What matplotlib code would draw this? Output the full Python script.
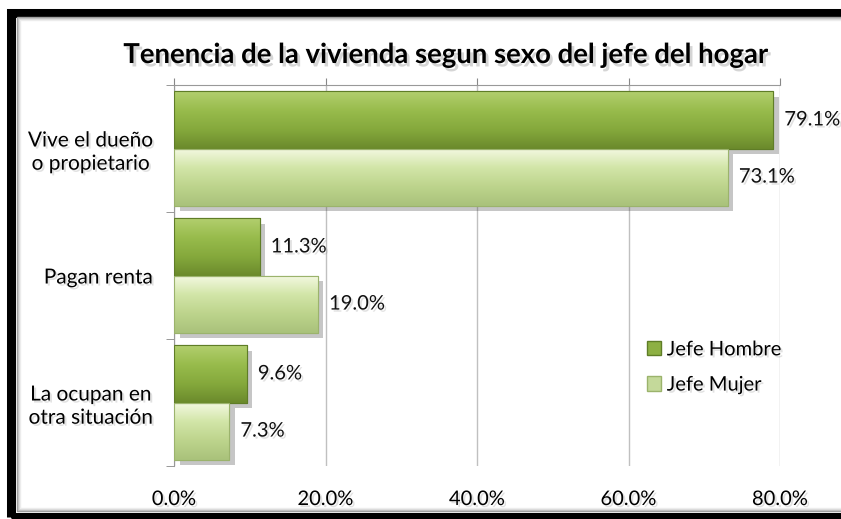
import numpy as np
import matplotlib.pyplot as plt
import matplotlib.patheffects as pe
from matplotlib.patches import Rectangle, Patch
from matplotlib.colors import LinearSegmentedColormap

plt.rcParams['font.family'] = ['Lato', 'DejaVu Sans']

categories = ['Vive el dueño\no propietario', 'Pagan renta', 'La ocupan en\notra situación']
hombre = [79.1, 11.3, 9.6]
mujer = [73.1, 19.0, 7.3]
series = ['Jefe Hombre', 'Jefe Mujer']
xticks = [0, 20, 40, 60, 80]

# gradientes (arriba -> abajo)
grad_h = LinearSegmentedColormap.from_list('h', ['#b2cf6e', '#98bb4c', '#85a93c', '#6b8a2c'])
grad_m = LinearSegmentedColormap.from_list('m', ['#f4f9e2', '#d2e5a8', '#bdd48c', '#a9c27b'])

# sombra suave del texto
shadow = [pe.withSimplePatchShadow(offset=(1.5, -1.5), shadow_rgbFace='#888888', alpha=0.25)]

fig = plt.figure(figsize=(8.41, 5.19), dpi=100)
ax = fig.add_axes([0.2069, 0.1021, 0.7206, 0.7341])

y = np.arange(len(categories))
h = 0.45
bars_h = ax.barh(y - h / 2, hombre, height=h, color='#8db043', edgecolor='#5f7d27', lw=0.8, zorder=3)
bars_m = ax.barh(y + h / 2, mujer, height=h, color='#c4d99a', edgecolor='#9bb36c', lw=0.8, zorder=3)

grad = np.linspace(0, 1, 100).reshape(-1, 1)
for bars, cmap in ((bars_h, grad_h), (bars_m, grad_m)):
    for b in bars:
        b.set_path_effects([pe.SimplePatchShadow(offset=(4, -4), shadow_rgbFace='#444444', alpha=0.3), pe.Normal()])
        x0, y0, w, hh = b.get_x(), b.get_y(), b.get_width(), b.get_height()
        im = ax.imshow(grad, cmap=cmap, aspect='auto', extent=(x0, x0 + w, y0 + hh, y0),
                       zorder=3.5, interpolation='bilinear')
        im.set_clip_path(b)
        ax.add_patch(Rectangle((x0, y0), w, hh, fill=False, edgecolor=b.get_edgecolor(), lw=0.8, zorder=4))

for bars, vals in ((bars_h, hombre), (bars_m, mujer)):
    for b, v in zip(bars, vals):
        ax.annotate(f'{v:.1f}%', (b.get_width(), b.get_y() + b.get_height() / 2),
                    xytext=(8, 0), textcoords='offset points', ha='left', va='center',
                    fontsize=14.5, color='#111111', path_effects=shadow, zorder=5)

ax.set_xlim(0, 80)
ax.set_ylim(2.5, -0.5)
ax.set_xticks(xticks)
ax.set_xticklabels([f'{t:.1f}%' for t in xticks], fontsize=14.5)
for t in ax.get_xticklabels():
    t.set_path_effects(shadow)
ax.tick_params(axis='x', top=True, bottom=False, labeltop=False, labelbottom=True,
               direction='out', length=5, color='#888888', pad=13)

ax.set_yticks(y)
ax.set_yticklabels(categories, fontsize=15)
for t in ax.get_yticklabels():
    t.set_multialignment('center')
    t.set_path_effects(shadow)
ax.set_yticks([-0.5, 0.5, 1.5, 2.5], minor=True)
ax.tick_params(axis='y', which='major', length=0, pad=15)
ax.tick_params(axis='y', which='minor', length=6, color='#888888')

ax.grid(axis='x', color='#c0c0c0', lw=1, zorder=0)
ax.set_axisbelow(True)
for s in ['right', 'bottom']:
    ax.spines[s].set_visible(False)
for s in ['top', 'left']:
    ax.spines[s].set_color('#999999')

handles = [Patch(facecolor='#8db043', edgecolor='#5f7d27'), Patch(facecolor='#c4d99a', edgecolor='#9bb36c')]
leg = ax.legend(handles, series, loc='upper left', bbox_to_anchor=(0.75, 0.375), frameon=False,
                fontsize=14.5, handlelength=0.7, handleheight=0.7, handletextpad=0.3, labelspacing=0.9)
for t in leg.get_texts():
    t.set_path_effects(shadow)

fig.text(0.529, 0.894, 'Tenencia de la vivienda segun sexo del jefe del hogar', ha='center', va='center',
         fontsize=19.8, fontweight='bold',
         path_effects=[pe.withSimplePatchShadow(offset=(2, -2.5), shadow_rgbFace='#777777', alpha=0.3)])

# marco negro con borde interior gris
W, H = 841, 519
fig.add_artist(Rectangle((11 / W, 2 / H), 1, 1 - 14.5 / H, transform=fig.transFigure,
                         fill=False, edgecolor='black', lw=6.5))
for i, c in enumerate(['#9a9a9a', '#bdbdbd', '#d8d8d8', '#ececec']):
    fig.add_artist(Rectangle(((17 + i) / W, (8 + i) / H), 1, 1 - (25 + 2 * i) / H, transform=fig.transFigure,
                             fill=False, edgecolor=c, lw=1))

fig.savefig('out.png', dpi=100)
